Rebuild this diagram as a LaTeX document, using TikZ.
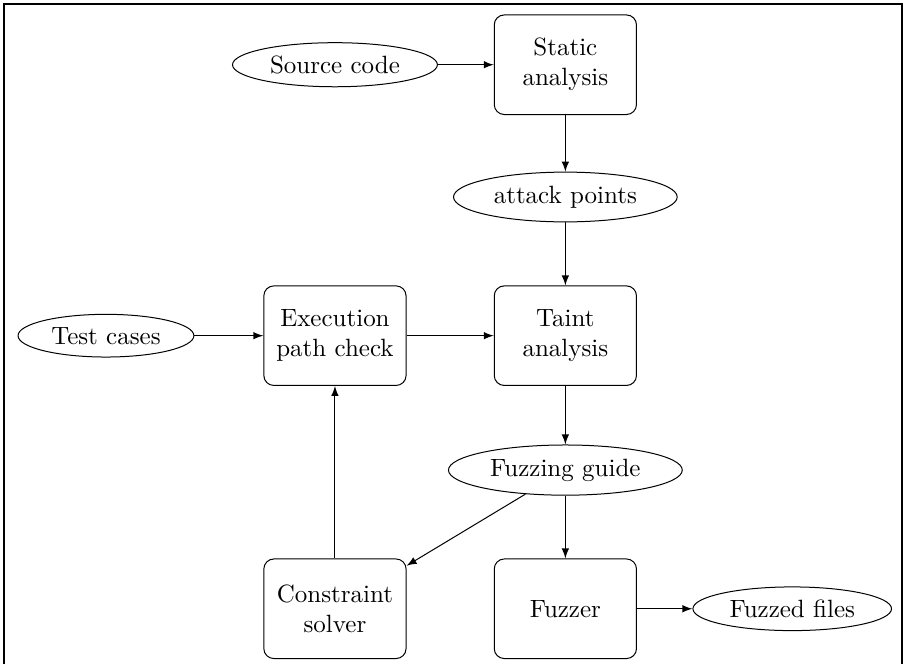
\documentclass[tikz,border=0pt]{standalone}
\usetikzlibrary{shapes.geometric}
\begin{document}
\begin{tikzpicture}[
  process/.style={draw, rectangle, rounded corners, minimum width=2cm, minimum height=1.4cm, align=center},
  data/.style={draw, ellipse, inner xsep=3pt, inner ysep=2.6pt},
  flow/.style={->, >=latex}
]
\useasboundingbox (0,0) rectangle (12.74,-9.34);
\draw[line width=0.8pt] (0.05,-9.34) |- (12.69,-0.06) -- (12.69,-9.34);
\node[data] (src) at (4.71,-0.91) {Source code};
\node[process] (sa) at (7.95,-0.91) {Static\\analysis};
\node[data] (ap) at (7.95,-2.77) {attack points};
\node[data] (tc) at (1.49,-4.72) {Test cases};
\node[process] (epc) at (4.71,-4.72) {Execution\\path check};
\node[process] (ta) at (7.95,-4.72) {Taint\\analysis};
\node[data] (fg) at (7.95,-6.61) {Fuzzing guide};
\node[process] (cs) at (4.71,-8.56) {Constraint\\solver};
\node[process] (fz) at (7.95,-8.56) {Fuzzer};
\node[data] (ff) at (11.14,-8.56) {Fuzzed files};
\draw[flow] (src) -- (sa);
\draw[flow] (sa) -- (ap);
\draw[flow] (ap) -- (ta);
\draw[flow] (tc) -- (epc);
\draw[flow] (epc) -- (ta);
\draw[flow] (ta) -- (fg);
\draw[flow] (fg) -- (cs);
\draw[flow] (fg) -- (fz);
\draw[flow] (cs) -- (epc);
\draw[flow] (fz) -- (ff);
\end{tikzpicture}
\end{document}
